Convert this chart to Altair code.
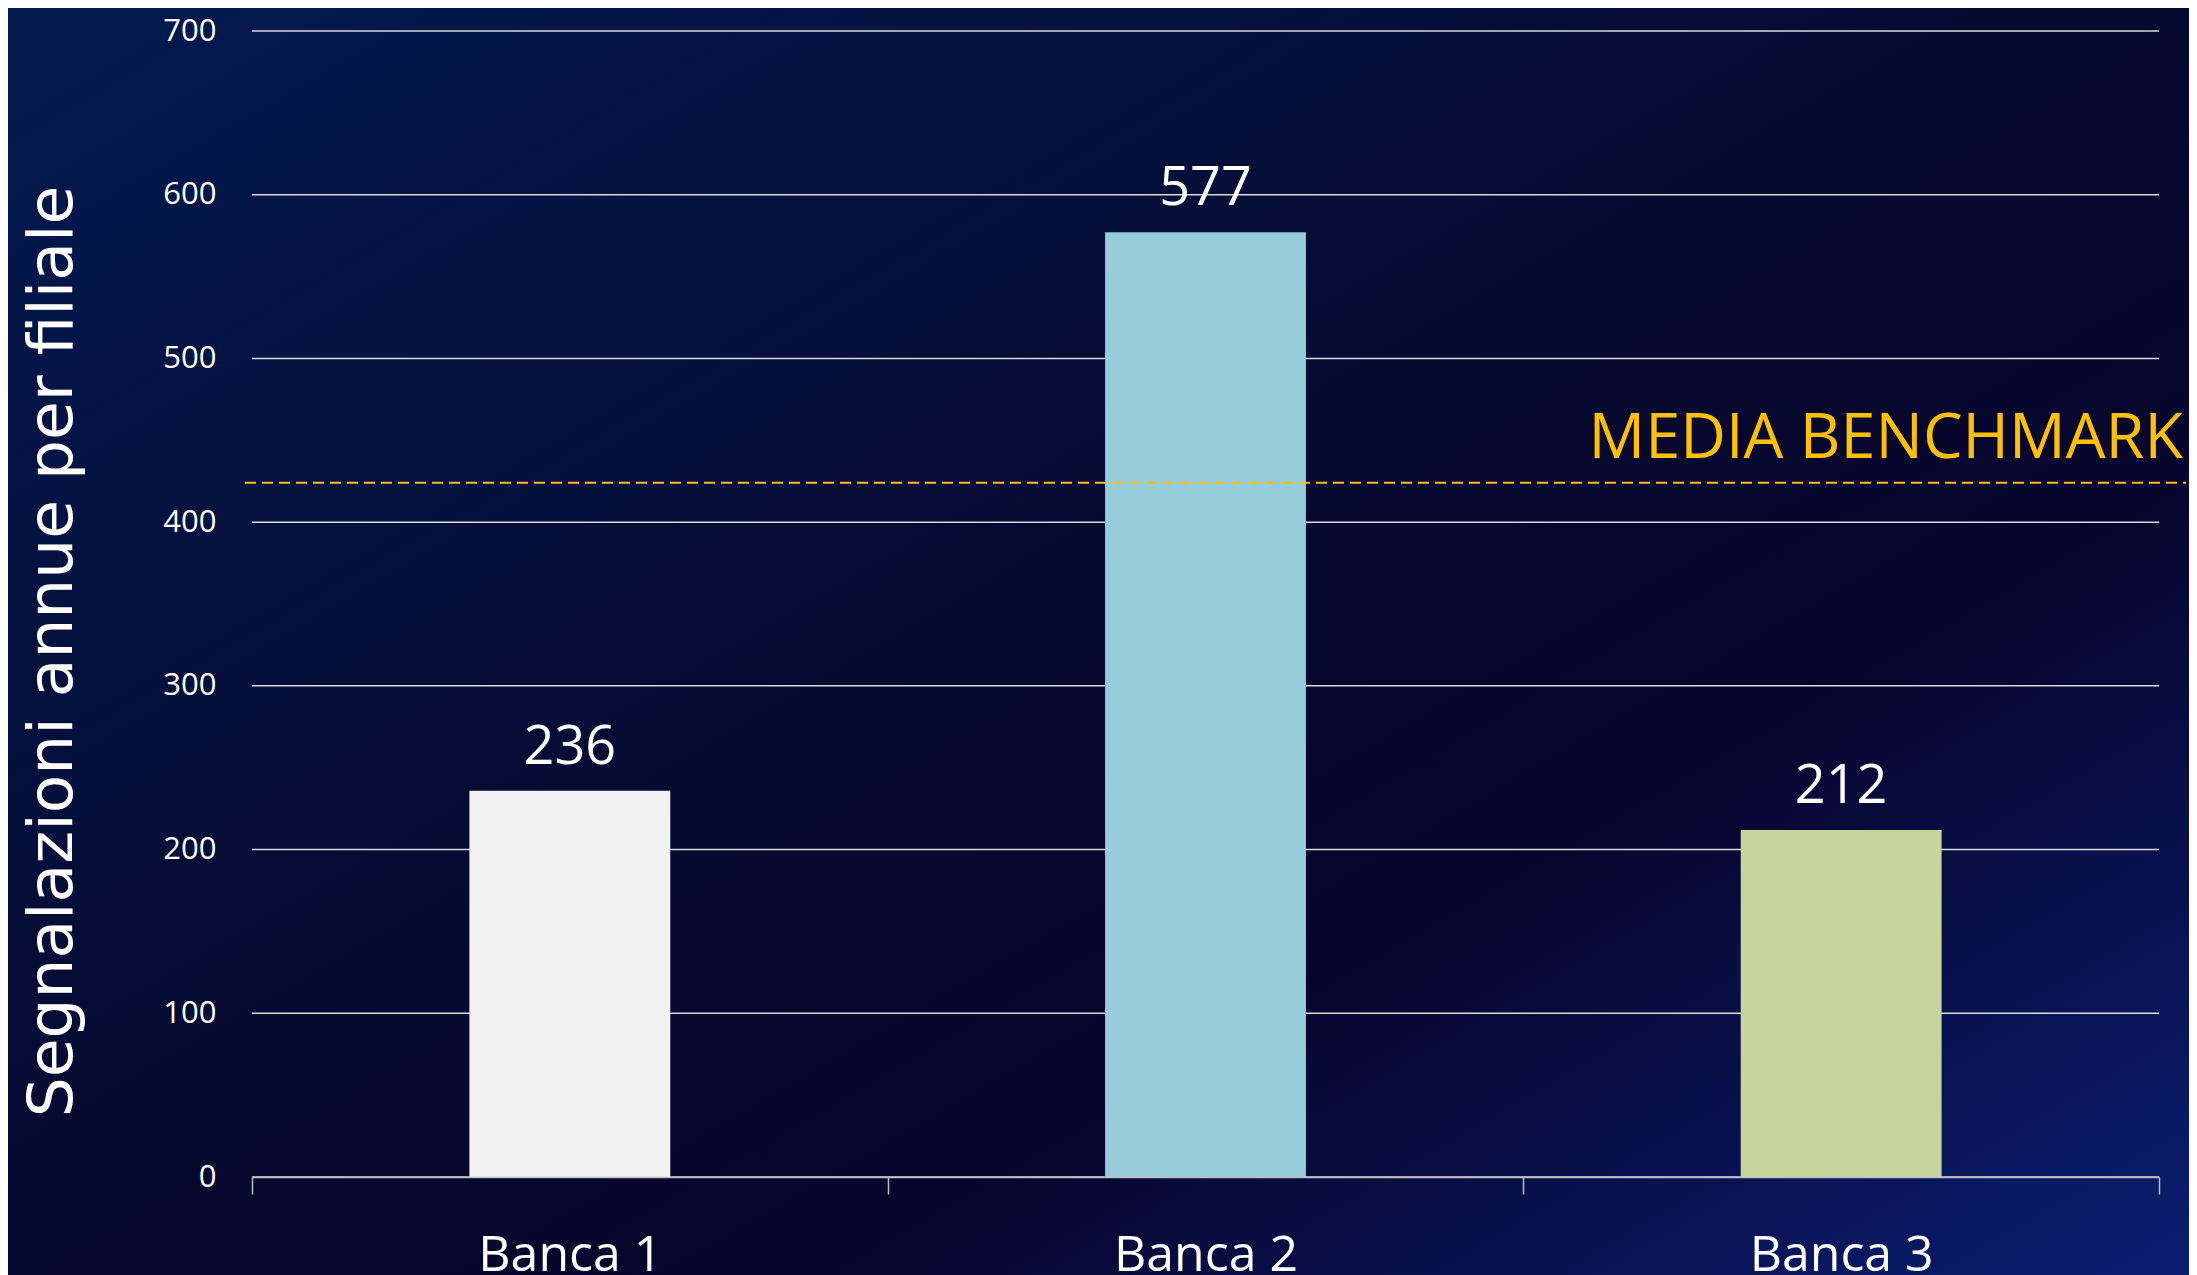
import altair as alt
import pandas as pd

# ---- data ----
categories = ["Banca 1", "Banca 2", "Banca 3"]
values = [236, 577, 212]
bar_colors = ["#f2f2f2", "#96cbdc", "#c4d69c"]
benchmark_value = [424]
benchmark_label = ["MEDIA BENCHMARK"]
y_ticks = [0, 100, 200, 300, 400, 500, 600, 700]
y_title = "Segnalazioni annue per filiale"

# ---- layout ----
W, H = 1907, 1146
PAD_L, PAD_T, PAD_R, PAD_B = 244, 23, 30, 98
FONT = "Open Sans"
TITLE_FONT = "DejaVu Sans"

bars_df = pd.DataFrame({"banca": categories, "valore": values})
grid_df = pd.DataFrame({"valore": y_ticks})
bench_df = pd.DataFrame({"valore": benchmark_value, "label": benchmark_label})
bg_df = pd.DataFrame({"k": [0]})

yscale = alt.Scale(domain=[0, 700], nice=False, zero=True)
xscale = alt.Scale(domain=categories, paddingInner=0, paddingOuter=0)

y_axis = alt.Axis(
    values=y_ticks, title=y_title, grid=False, domain=False, ticks=False,
    labelFont=FONT, labelFontSize=31, labelColor="#ffffff", labelPadding=36,
    titleFont=TITLE_FONT, titleFontSize=63, titleColor="#ffffff", titleFontWeight="normal",
    titleAngle=270, titleX=-200, titleY=620, titleAlign="center",
    titleBaseline="middle", zindex=1,
)
x_axis = alt.Axis(
    title=None, labelAngle=0, tickBand="extent", tickSize=17,
    tickColor="#bfbfbf", tickWidth=1.5, domainColor="#bfbfbf", domainWidth=1.5,
    labelFont=FONT, labelFontSize=50, labelColor="#ffffff", labelPadding=36,
    labelLimit=0, zindex=1,
)

gradient = alt.LinearGradient(
    gradient="linear",
    stops=[
        alt.GradientStop(color="#021a50", offset=0),
        alt.GradientStop(color="#06092f", offset=0.5),
        alt.GradientStop(color="#07052c", offset=0.68),
        alt.GradientStop(color="#0a1e72", offset=1),
    ],
    x1=0, y1=0, x2=1, y2=1,
)

bg = alt.Chart(bg_df).mark_rect(color=gradient).encode(
    x=alt.value(-PAD_L), x2=alt.value(W + PAD_R),
    y=alt.value(-PAD_T), y2=alt.value(H + PAD_B),
)

grid = alt.Chart(grid_df).mark_rule(color="#d9d9d9", strokeWidth=1.5).encode(
    y=alt.Y("valore:Q", scale=yscale, axis=y_axis)
)

bars = alt.Chart(bars_df).mark_bar(width=alt.RelativeBandSize(band=0.316)).encode(
    x=alt.X("banca:N", scale=xscale, sort=categories, axis=x_axis),
    y=alt.Y("valore:Q", scale=yscale, axis=y_axis),
    color=alt.Color("banca:N", scale=alt.Scale(domain=categories, range=bar_colors), legend=None),
)

labels = alt.Chart(bars_df).mark_text(
    dy=-27, baseline="alphabetic", fontSize=54, color="#ffffff", font=FONT
).encode(
    x=alt.X("banca:N", scale=xscale, sort=categories, axis=x_axis),
    y=alt.Y("valore:Q", scale=yscale, axis=y_axis),
    text=alt.Text("valore:Q"),
)

bench_rule = alt.Chart(bench_df).mark_rule(
    color="#ffc000", strokeWidth=2, strokeDash=[11, 6]
).encode(
    y=alt.Y("valore:Q", scale=yscale, axis=y_axis),
    x=alt.value(-7), x2=alt.value(W + 27),
)

bench_text = alt.Chart(bench_df).mark_text(
    align="right", baseline="alphabetic", dy=-25, fontSize=63, color="#ffc000", font=FONT
).encode(
    y=alt.Y("valore:Q", scale=yscale, axis=y_axis),
    x=alt.value(W + 24),
    text="label:N",
)

chart = alt.layer(bg, grid, bars, labels, bench_rule, bench_text).properties(
    width=W, height=H,
    autosize=alt.AutoSizeParams(type="none"),
    padding={"left": PAD_L, "top": PAD_T, "right": PAD_R, "bottom": PAD_B},
    background="#06082f",
).configure_view(stroke=None)

chart.save("out.html", embed_options={"renderer": "svg", "actions": False})
